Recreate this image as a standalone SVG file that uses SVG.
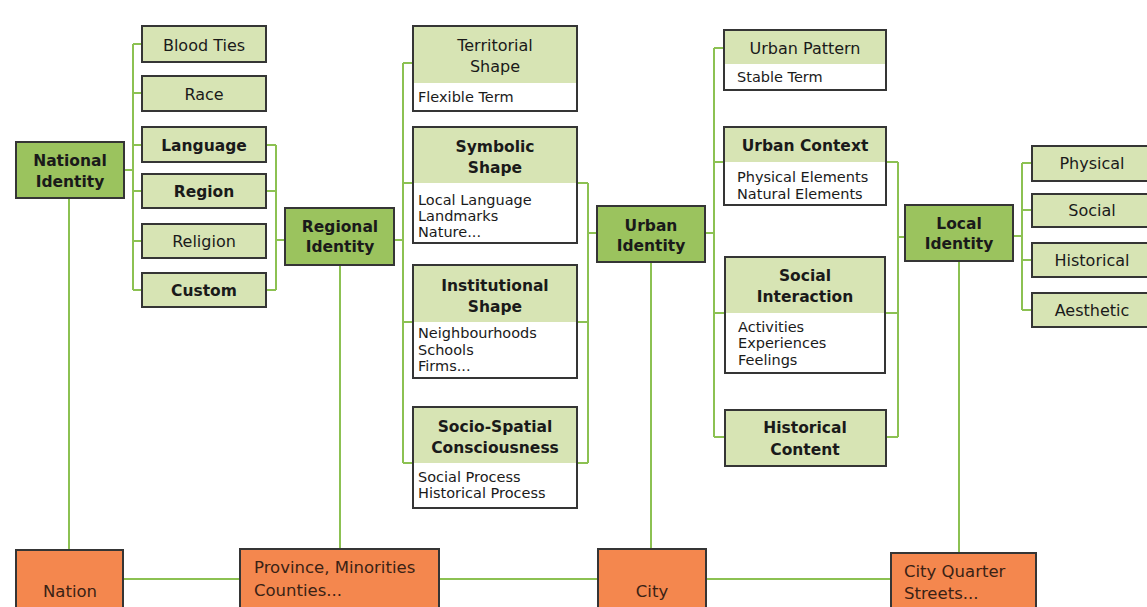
<svg xmlns="http://www.w3.org/2000/svg" width="1147" height="607" viewBox="0 0 1147 607">
<style>
.bg{fill:#ffffff}
.c{stroke:#8cc152;stroke-width:2;fill:none}
.lt{fill:#d7e4b4;stroke:#353535;stroke-width:2}
.dk{fill:#9bc35e;stroke:#353535;stroke-width:2}
.hd{fill:#d7e4b4}
.wb{fill:#ffffff;stroke:#353535;stroke-width:2}
.fr{fill:none;stroke:#353535;stroke-width:2}
.or{fill:#f4874e;stroke:#353535;stroke-width:2}
text{font-family:"DejaVu Sans","Liberation Sans",sans-serif;fill:#1a1a1a}
.b{font-weight:bold;font-size:15.5px;text-anchor:middle}
.r{font-size:16px;text-anchor:middle}
.s{font-size:14.5px}
.o{font-size:16.5px;fill:#3a2215}
.m{text-anchor:middle}
</style>
<rect class="bg" x="0" y="0" width="1147" height="607"/>
<g id="connectors">
<path class="c" d="M124 170H133M133 44V290M133 44H142M133 93H142M133 145H142M133 191H142M133 241H142M133 290H142"/>
<path class="c" d="M266 145H276M266 191H276M266 290H276M276 145V290M276 240H285"/>
<path class="c" d="M394 240H403M403 63V463M403 63H413M403 183H413M403 322H413M403 463H413"/>
<path class="c" d="M577 183H588M577 322H588M577 463H588M588 183V463M588 233H597"/>
<path class="c" d="M705 233H714M714 48V437M714 48H724M714 162H724M714 313H725M714 437H725"/>
<path class="c" d="M886 162H898M885 313H898M886 437H898M898 162V437M898 237H905"/>
<path class="c" d="M1013 236H1022M1022 163V310M1022 163H1032M1022 210H1032M1022 260H1032M1022 310H1032"/>
<path class="c" d="M69 198V550M340 265V549M651 262V549M959 261V553M123 579H891"/>
</g>
<g id="national-identity"><rect class="dk" x="16" y="142" width="108" height="56"/><text class="b" x="70" y="166">National</text><text class="b" x="70" y="187">Identity</text></g>
<g id="blood-ties"><rect class="lt" x="142" y="26" width="124" height="36"/><text class="r" x="204" y="51">Blood Ties</text></g>
<g id="race"><rect class="lt" x="142" y="76" width="124" height="35"/><text class="r" x="204" y="100">Race</text></g>
<g id="language"><rect class="lt" x="142" y="127" width="124" height="35"/><text class="b" x="204" y="151">Language</text></g>
<g id="region"><rect class="lt" x="142" y="174" width="124" height="34"/><text class="b" x="204" y="197">Region</text></g>
<g id="religion"><rect class="lt" x="142" y="224" width="124" height="34"/><text class="r" x="204" y="247">Religion</text></g>
<g id="custom"><rect class="lt" x="142" y="273" width="124" height="34"/><text class="b" x="204" y="296">Custom</text></g>
<g id="regional-identity"><rect class="dk" x="285" y="208" width="109" height="57"/><text class="b" x="340" y="232">Regional</text><text class="b" x="340" y="252">Identity</text></g>
<g id="territorial-shape"><rect class="wb" x="413" y="26" width="164" height="85"/><rect class="hd" x="414" y="27" width="162" height="56"/><rect class="fr" x="413" y="26" width="164" height="85"/><text class="r" x="495" y="51">Territorial</text><text class="r" x="495" y="72">Shape</text><text class="s" x="418" y="102">Flexible Term</text></g>
<g id="symbolic-shape"><rect class="wb" x="413" y="127" width="164" height="116"/><rect class="hd" x="414" y="128" width="162" height="55"/><rect class="fr" x="413" y="127" width="164" height="116"/><text class="b" x="495" y="152">Symbolic</text><text class="b" x="495" y="173">Shape</text><text class="s" x="418" y="205">Local Language</text><text class="s" x="418" y="221">Landmarks</text><text class="s" x="418" y="237">Nature...</text></g>
<g id="institutional-shape"><rect class="wb" x="413" y="265" width="164" height="113"/><rect class="hd" x="414" y="266" width="162" height="56"/><rect class="fr" x="413" y="265" width="164" height="113"/><text class="b" x="495" y="291">Institutional</text><text class="b" x="495" y="312">Shape</text><text class="s" x="418" y="338">Neighbourhoods</text><text class="s" x="418" y="355">Schools</text><text class="s" x="418" y="371">Firms...</text></g>
<g id="socio-spatial"><rect class="wb" x="413" y="407" width="164" height="101"/><rect class="hd" x="414" y="408" width="162" height="55"/><rect class="fr" x="413" y="407" width="164" height="101"/><text class="b" x="495" y="432">Socio-Spatial</text><text class="b" x="495" y="453">Consciousness</text><text class="s" x="418" y="482">Social Process</text><text class="s" x="418" y="498">Historical Process</text></g>
<g id="urban-identity"><rect class="dk" x="597" y="206" width="108" height="56"/><text class="b" x="651" y="231">Urban</text><text class="b" x="651" y="251">Identity</text></g>
<g id="urban-pattern"><rect class="wb" x="724" y="30" width="162" height="60"/><rect class="hd" x="725" y="31" width="160" height="33"/><rect class="fr" x="724" y="30" width="162" height="60"/><text class="r" x="805" y="54">Urban Pattern</text><text class="s" x="737" y="82">Stable Term</text></g>
<g id="urban-context"><rect class="wb" x="724" y="127" width="162" height="78"/><rect class="hd" x="725" y="128" width="160" height="34"/><rect class="fr" x="724" y="127" width="162" height="78"/><text class="b" x="805" y="151">Urban Context</text><text class="s" x="737" y="182">Physical Elements</text><text class="s" x="737" y="199">Natural Elements</text></g>
<g id="social-interaction"><rect class="wb" x="725" y="257" width="160" height="116"/><rect class="hd" x="726" y="258" width="158" height="55"/><rect class="fr" x="725" y="257" width="160" height="116"/><text class="b" x="805" y="281">Social</text><text class="b" x="805" y="302">Interaction</text><text class="s" x="738" y="332">Activities</text><text class="s" x="738" y="348">Experiences</text><text class="s" x="738" y="365">Feelings</text></g>
<g id="historical-content"><rect class="lt" x="725" y="410" width="161" height="56"/><text class="b" x="805" y="433">Historical</text><text class="b" x="805" y="455">Content</text></g>
<g id="local-identity"><rect class="dk" x="905" y="205" width="108" height="56"/><text class="b" x="959" y="229">Local</text><text class="b" x="959" y="249">Identity</text></g>
<g id="physical"><rect class="lt" x="1032" y="146" width="120" height="35"/><text class="r" x="1092" y="169">Physical</text></g>
<g id="social"><rect class="lt" x="1032" y="194" width="120" height="33"/><text class="r" x="1092" y="216">Social</text></g>
<g id="historical"><rect class="lt" x="1032" y="243" width="120" height="34"/><text class="r" x="1092" y="266">Historical</text></g>
<g id="aesthetic"><rect class="lt" x="1032" y="293" width="120" height="34"/><text class="r" x="1092" y="316">Aesthetic</text></g>
<g id="nation"><rect class="or" x="16" y="550" width="107" height="66"/><text class="o m" x="70" y="597">Nation</text></g>
<g id="province"><rect class="or" x="240" y="549" width="199" height="67"/><text class="o" x="254" y="573">Province, Minorities</text><text class="o" x="254" y="596">Counties...</text></g>
<g id="city"><rect class="or" x="598" y="549" width="108" height="67"/><text class="o m" x="652" y="597">City</text></g>
<g id="city-quarter"><rect class="or" x="891" y="553" width="145" height="63"/><text class="o" x="904" y="577">City Quarter</text><text class="o" x="904" y="599">Streets...</text></g>
</svg>
